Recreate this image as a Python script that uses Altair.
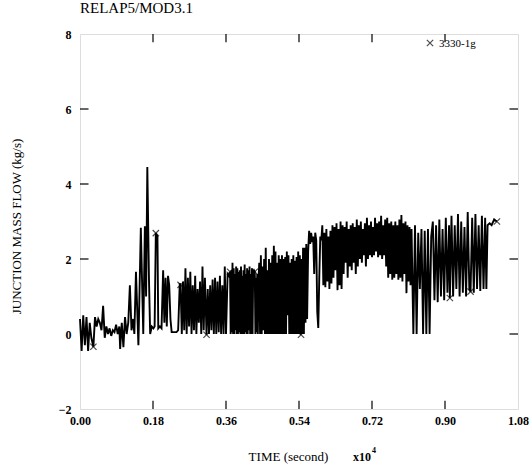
import altair as alt
import pandas as pd

# ---- data (time in units of 1e4 s, flow in kg/s) ----
seg_a_t = [0.000, 0.004, 0.008, 0.012, 0.016, 0.020, 0.024, 0.028, 0.033, 0.037, 0.041, 0.045, 0.049,
           0.053, 0.057, 0.061, 0.065, 0.069, 0.073, 0.077, 0.081, 0.085, 0.089, 0.093, 0.097]
seg_a_v = [0.4, -0.45, 0.5, -0.3, 0.45, -0.45, 0.3, -0.1, -0.34, 0.45, 0.2, 0.4, 0.3,
           0.1, 0.75, -0.1, 0.2, 0.0, 0.15, -0.05, 0.1, 0.05, 0.25, 0.0, 0.2]

seg_b_t = [0.099, 0.103, 0.107, 0.111, 0.115, 0.119, 0.123, 0.127, 0.131, 0.134, 0.138, 0.144, 0.150,
           0.156, 0.160, 0.163, 0.166, 0.170, 0.173, 0.177, 0.181, 0.184, 0.187, 0.191, 0.193, 0.197,
           0.201, 0.205, 0.208, 0.211, 0.214, 0.217, 0.220, 0.223, 0.226, 0.232, 0.238, 0.242, 0.246, 0.248]
seg_b_v = [-0.4, 0.3, -0.35, 0.45, 0.0, 0.3, 1.3, 0.1, 0.4, 0.0, 1.66, -0.3, 2.83,
           0.0, 2.87, 1.0, 4.45, 1.5, 0.0, 0.2, 0.15, 0.2, 2.69, 2.6, 0.15, 0.2,
           0.15, 1.7, 0.3, 1.5, 0.2, 1.55, 1.3, 0.4, 0.05, 0.05, 0.05, 0.1, 1.35, 1.3]

seg_c_t = [0.251, 0.254, 0.257, 0.260, 0.263, 0.266, 0.269, 0.272, 0.275, 0.278, 0.281, 0.284, 0.287,
           0.290, 0.293, 0.296, 0.299, 0.302, 0.305, 0.308, 0.312, 0.315, 0.318, 0.321, 0.324, 0.327,
           0.330, 0.333, 0.336, 0.339, 0.342, 0.345, 0.348, 0.351, 0.354, 0.357, 0.360, 0.364, 0.367, 0.370]
seg_c_v = [0.0, 1.4, 0.1, 1.75, 0.0, 1.5, 0.2, 1.66, 0.0, 1.3, 0.1, 1.55, 0.0,
           1.2, 0.3, 1.4, 0.0, 1.8, 0.1, 1.5, -0.02, 1.2, 0.0, 1.3, 0.1, 1.45,
           0.0, 1.5, 0.0, 1.4, 0.05, 1.55, 0.0, 1.3, 0.0, 1.8, 0.0, 1.6, 1.55, 1.66]

seg_d_t = [0.3715, 0.373, 0.3745, 0.376, 0.3775, 0.379, 0.3805, 0.382, 0.3835, 0.385, 0.3865, 0.388,
           0.3895, 0.391, 0.3925, 0.394, 0.3955, 0.397, 0.3985, 0.400, 0.4015, 0.403, 0.4045, 0.406,
           0.4075, 0.409, 0.4105, 0.412, 0.4135, 0.415, 0.4165, 0.418, 0.4195, 0.421, 0.4225, 0.424,
           0.4255, 0.427, 0.429, 0.431, 0.4325, 0.434, 0.4355, 0.437, 0.4385, 0.440]
seg_d_v = [0.0, 1.7, 0.05, 1.9, 0.0, 1.75, 0.0, 1.6, 0.1, 1.8, 0.0, 1.75,
           0.0, 1.65, 0.05, 1.7, 0.0, 1.8, 0.0, 1.55, 0.0, 1.7, 0.0, 1.85,
           0.05, 1.6, 0.0, 1.75, 0.0, 1.7, 0.1, 1.8, 0.0, 1.6, 0.0, 1.75,
           0.0, 1.66, 1.7, 1.66, 0.0, 1.5, 0.05, 1.6, 0.0, 1.4]

seg_e_t = [0.442, 0.444, 0.446, 0.448, 0.450, 0.452, 0.454, 0.456, 0.458, 0.460, 0.462, 0.464,
           0.466, 0.468, 0.470, 0.472, 0.474, 0.476, 0.478, 0.480, 0.482, 0.484, 0.486, 0.488,
           0.490, 0.492, 0.494, 0.496, 0.498, 0.500, 0.502, 0.504, 0.506, 0.508, 0.510, 0.512,
           0.514, 0.516, 0.518, 0.520, 0.522, 0.524, 0.526, 0.528, 0.530, 0.532, 0.534, 0.536,
           0.538, 0.540, 0.542, 0.544, 0.546, 0.548, 0.550, 0.552, 0.554, 0.556, 0.558, 0.560]
seg_e_v = [1.9, 0.0, 2.1, 0.0, 1.8, 0.1, 2.0, 0.0, 2.3, 0.0, 1.7, 0.0,
           2.0, 0.0, 1.9, 0.0, 2.1, 0.0, 2.35, 0.0, 2.2, 0.0, 1.9, 0.0,
           2.1, 0.0, 2.0, 0.0, 2.1, 0.0, 2.0, 0.0, 2.05, 0.0, 2.2, 0.5,
           2.1, 0.0, 1.9, 0.0, 2.0, 0.0, 2.1, 0.0, 1.95, 0.0, 2.05, 0.0,
           2.2, 0.0, 2.1, -0.02, 2.0, 0.0, 2.3, 0.0, 2.3, 0.3, 2.4, 0.4]

seg_f_t = [0.5625, 0.565, 0.5675, 0.570, 0.5725, 0.575, 0.5775, 0.580, 0.5825, 0.585, 0.5875, 0.590,
           0.5925, 0.595, 0.5975, 0.600, 0.6025, 0.605, 0.6075, 0.610, 0.6125, 0.615, 0.6175, 0.620,
           0.6225, 0.625, 0.6275, 0.630, 0.6325, 0.635, 0.6375, 0.640, 0.6425, 0.645, 0.6475, 0.650,
           0.6525, 0.655, 0.6575, 0.660, 0.6625, 0.665, 0.6675, 0.670, 0.6725, 0.675, 0.6775, 0.680,
           0.6825, 0.685, 0.6875, 0.690, 0.6925, 0.695, 0.6975, 0.700, 0.7025, 0.705, 0.7075, 0.710,
           0.7125, 0.715, 0.7175, 0.720, 0.7225, 0.725, 0.7275, 0.730, 0.7325, 0.735, 0.7375, 0.740,
           0.7425, 0.745, 0.7475, 0.750, 0.7525, 0.755, 0.7575, 0.760, 0.7625, 0.765, 0.7675, 0.770,
           0.7725, 0.775, 0.7775, 0.780, 0.7825, 0.785, 0.7875, 0.790, 0.7925, 0.795, 0.7975, 0.800,
           0.8025, 0.805, 0.8075, 0.810, 0.8125, 0.815, 0.8175, 0.820]
seg_f_v = [2.2, 2.75, 2.4, 2.7, 2.45, 2.6, 1.6, 2.7, 2.5, 0.6, 0.16, 1.5,
           2.6, 2.5,
           2.9, 1.3, 2.7, 1.25, 2.8, 1.4, 2.6, 1.2, 2.75, 1.35, 2.9, 1.5,
           2.85, 1.7, 2.95, 1.17, 2.8, 1.3, 3.0, 1.2, 2.9, 1.6, 2.85, 1.9,
           3.0, 1.5, 2.8, 1.8, 2.9, 1.7, 2.95, 1.9, 2.85, 1.6, 3.05, 1.8,
           2.9, 2.0, 3.0, 1.9, 2.8, 2.1, 2.95, 1.8, 3.1, 2.0, 2.9, 2.1,
           3.0, 2.05, 2.85, 2.1, 3.1, 2.2, 2.95, 2.05, 3.0, 2.1, 3.15, 2.0,
           2.9, 2.1, 3.05, 1.8, 3.1, 1.5, 2.95, 1.6, 3.0, 1.45, 2.9, 1.5,
           3.0, 1.6, 2.9, 1.45, 3.05, 1.5, 3.17, 1.4, 2.95, 1.6, 3.0, 1.09,
           2.9, 1.4, 2.85, 1.3, 2.8, 1.2]

seg_g_t = [0.822, 0.826, 0.830, 0.834, 0.838, 0.842, 0.846, 0.850, 0.854, 0.858, 0.862, 0.866]
seg_g_v = [0.0, 2.9, 0.0, 2.7, 1.2, 2.8, 0.0, 2.75, 0.0, 2.8, 0.0, 2.6]

seg_h_t = [0.870, 0.874, 0.878, 0.882, 0.886, 0.890, 0.894, 0.898, 0.902, 0.906, 0.910, 0.912, 0.916,
           0.920, 0.924, 0.928, 0.932, 0.936, 0.940, 0.944, 0.948, 0.952, 0.956, 0.960, 0.963, 0.967,
           0.971, 0.975, 0.979, 0.983, 0.987, 0.991, 0.995, 0.999, 1.002, 1.005, 1.010, 1.015, 1.021, 1.028]
seg_h_v = [3.0, 0.9, 2.9, 0.85, 3.05, 1.0, 2.8, 0.9, 3.1, 1.1, 2.9, 0.96, 3.15,
           1.0, 2.9, 1.2, 3.2, 1.0, 3.0, 1.1, 2.85, 1.0, 3.25, 1.2, 1.13, 3.1,
           1.1, 3.2, 1.2, 2.9, 1.15, 3.15, 1.2, 3.1, 1.2, 2.9, 2.95, 2.9, 3.05, 3.0]

marker_t = [0.033, 0.187, 0.248, 0.312, 0.370, 0.431, 0.545, 0.912, 0.963, 1.028]
marker_v = [-0.34, 2.69, 1.31, -0.02, 1.66, 1.66, -0.02, 0.96, 1.13, 3.0]

x_ticks = [0.0, 0.18, 0.36, 0.54, 0.72, 0.90, 1.08]
y_ticks = [-2, 0, 2, 4, 6, 8]
series_name = "3330-1g"

times = seg_a_t + seg_b_t + seg_c_t + seg_d_t + seg_e_t + seg_f_t + seg_g_t + seg_h_t
flows = seg_a_v + seg_b_v + seg_c_v + seg_d_v + seg_e_v + seg_f_v + seg_g_v + seg_h_v
df = pd.DataFrame({"t": times, "v": flows})
mk = pd.DataFrame({"t": marker_t, "v": marker_v})

SERIF = "Liberation Serif"
W, H = 438, 375
XD = [0.0, 1.08]
YD = [-2, 8]

xs = alt.Scale(domain=XD, nice=False, zero=False)
ys = alt.Scale(domain=YD, nice=False, zero=False)

xaxis = alt.Axis(values=x_ticks, format=".2f", ticks=False, domain=False, grid=False,
                 labelFlush=False, labelOverlap=False,
                 labelFont=SERIF, labelFontSize=12, labelFontWeight="bold", labelColor="black",
                 labelPadding=6, title="TIME (second)", titleFont=SERIF, titleFontSize=13,
                 titleFontWeight="normal", titleColor="black", titleX=208, titleY=47,
                 titleAnchor="middle", titleAlign="center", titleBaseline="middle")
yaxis = alt.Axis(values=y_ticks, format="d", ticks=False, domain=False, grid=False,
                 labelFlush=False, labelOverlap=False,
                 labelFont=SERIF, labelFontSize=12, labelFontWeight="bold", labelColor="black",
                 labelPadding=9, title="JUNCTION MASS FLOW (kg/s)", titleFont=SERIF, titleFontSize=13,
                 titleFontWeight="normal", titleColor="black", titleX=-64, titleY=192,
                 titleAngle=-90, titleAlign="center", titleBaseline="middle")

line = alt.Chart(df).mark_line(color="black", strokeWidth=1.9).encode(
    x=alt.X("t:Q", scale=xs, axis=xaxis),
    y=alt.Y("v:Q", scale=ys, axis=yaxis),
    order="t:Q",
)

xpath = "M-1,-1L1,1M-1,1L1,-1"
marks = alt.Chart(mk).mark_point(shape=xpath, size=40, color="black", strokeWidth=1.2,
                                 filled=False).encode(
    x=alt.X("t:Q", scale=xs), y=alt.Y("v:Q", scale=ys))

# inward tick marks on all four sides
xt_in = pd.DataFrame({"t": x_ticks[1:-1]})
yt_in = pd.DataFrame({"v": y_ticks[1:-1]})
tick_bottom = alt.Chart(xt_in).mark_rule(color="black", strokeWidth=1.2).encode(
    x=alt.X("t:Q", scale=xs), y=alt.datum(-2.0), y2=alt.datum(-1.78))
tick_top = alt.Chart(xt_in).mark_rule(color="black", strokeWidth=1.2).encode(
    x=alt.X("t:Q", scale=xs), y=alt.datum(8.0), y2=alt.datum(7.78))
tick_left = alt.Chart(yt_in).mark_rule(color="black", strokeWidth=1.2).encode(
    y=alt.Y("v:Q", scale=ys), x=alt.datum(0.0), x2=alt.datum(0.021))
tick_right = alt.Chart(yt_in).mark_rule(color="black", strokeWidth=1.2).encode(
    y=alt.Y("v:Q", scale=ys), x=alt.datum(1.08), x2=alt.datum(1.059))

# legend inside top right
leg = pd.DataFrame({"name": [series_name]})
leg_mark = alt.Chart(leg).mark_point(shape=xpath, size=40, color="black", strokeWidth=1.2,
                                     filled=False).encode(x=alt.value(350), y=alt.value(9))
leg_text = alt.Chart(leg).mark_text(font=SERIF, fontSize=11, align="left", baseline="middle",
                                    color="black").encode(
    text="name:N", x=alt.value(359), y=alt.value(10))

# x10^4 exponent label
exp_df = pd.DataFrame({"base": ["x10"], "exp": ["4"]})
exp_base = alt.Chart(exp_df).mark_text(font=SERIF, fontSize=12, fontWeight="bold", align="left",
                                       baseline="middle", color="black").encode(
    text="base:N", x=alt.value(273), y=alt.value(423))
exp_pow = alt.Chart(exp_df).mark_text(font=SERIF, fontSize=8, fontWeight="bold", align="left",
                                      baseline="middle", color="black").encode(
    text="exp:N", x=alt.value(292), y=alt.value(417))

chart = alt.layer(line, marks, tick_bottom, tick_top, tick_left, tick_right,
                  leg_mark, leg_text, exp_base, exp_pow).properties(
    width=W, height=H,
    title=alt.TitleParams("RELAP5/MOD3.1", anchor="start", frame="group", font=SERIF, fontSize=15,
                          fontWeight="normal", color="black", offset=12),
    autosize=alt.AutoSizeParams(type="none"),
    padding={"left": 80, "top": 34, "right": 14, "bottom": 59},
).configure_view(stroke="black", strokeWidth=1.6).configure(background="white")

chart.save("out.html", embed_options={"renderer": "svg", "actions": False})
